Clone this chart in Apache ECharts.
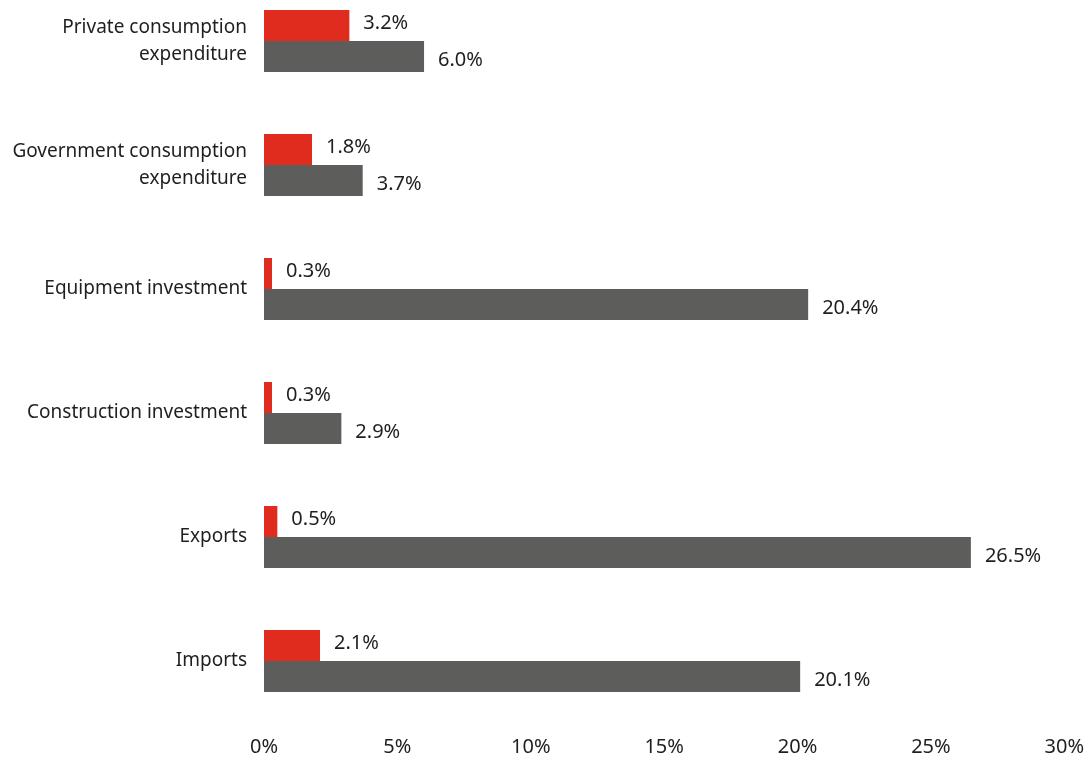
<!DOCTYPE html>
<html>
<head>
<meta charset="utf-8">
<script src="https://cdn.jsdelivr.net/npm/echarts@6/dist/echarts.min.js"></script>
<style>
  html, body { margin: 0; padding: 0; background: #fff; overflow: hidden; }
  /* plot area runs slightly above the page top so the first group sits near the edge */
  #chart { width: 1087px; height: 781px; margin-top: -21px; }
</style>
</head>
<body>
<div id="chart"></div>
<script>
// GDP components, two measures per component (percent)
const categories = [
  'Private consumption\nexpenditure',
  'Government consumption\nexpenditure',
  'Equipment investment',
  'Construction investment',
  'Exports',
  'Imports'
];
const redValues = [3.2, 1.8, 0.3, 0.3, 0.5, 2.1];
const greyValues = [6.0, 3.7, 20.4, 2.9, 26.5, 20.1];
const xTicks = [0, 5, 10, 15, 20, 25, 30];

const FONT = 'Noto Sans';
const TEXT = '#1f1f1f';

const chart = echarts.init(document.getElementById('chart'), null, { renderer: 'canvas' });

const valueLabel = (dy) => ({
  show: true,
  position: 'right',
  distance: 14,
  offset: [0, dy],
  color: TEXT,
  fontFamily: FONT,
  fontSize: 20,
  formatter: (p) => p.value.toFixed(1) + '%'
});

chart.setOption({
  animation: false,
  grid: { left: 264, right: 22, top: 0, bottom: 37, containLabel: false },
  xAxis: {
    type: 'value',
    min: xTicks[0],
    max: xTicks[xTicks.length - 1],
    interval: 5,
    axisLine: { show: false },
    axisTick: { show: false },
    splitLine: { show: false },
    axisLabel: {
      color: TEXT,
      fontFamily: FONT,
      fontSize: 20,
      margin: 14,
      formatter: (v) => v + '%'
    }
  },
  yAxis: {
    type: 'category',
    inverse: true,
    data: categories,
    axisLine: { show: false },
    axisTick: { show: false },
    axisLabel: {
      color: TEXT,
      fontFamily: FONT,
      fontSize: 19,
      lineHeight: 27,
      margin: 17,
      padding: [4, 0, 0, 0],
      align: 'right'
    }
  },
  series: [
    {
      name: 'Red',
      type: 'bar',
      data: redValues,
      barWidth: '25%',
      barGap: '0%',
      itemStyle: { color: '#e02b1f' },
      label: valueLabel(-2)
    },
    {
      name: 'Grey',
      type: 'bar',
      data: greyValues,
      barWidth: '25%',
      barGap: '0%',
      itemStyle: { color: '#5d5d5c' },
      label: valueLabel(4)
    }
  ]
});
</script>
</body>
</html>
